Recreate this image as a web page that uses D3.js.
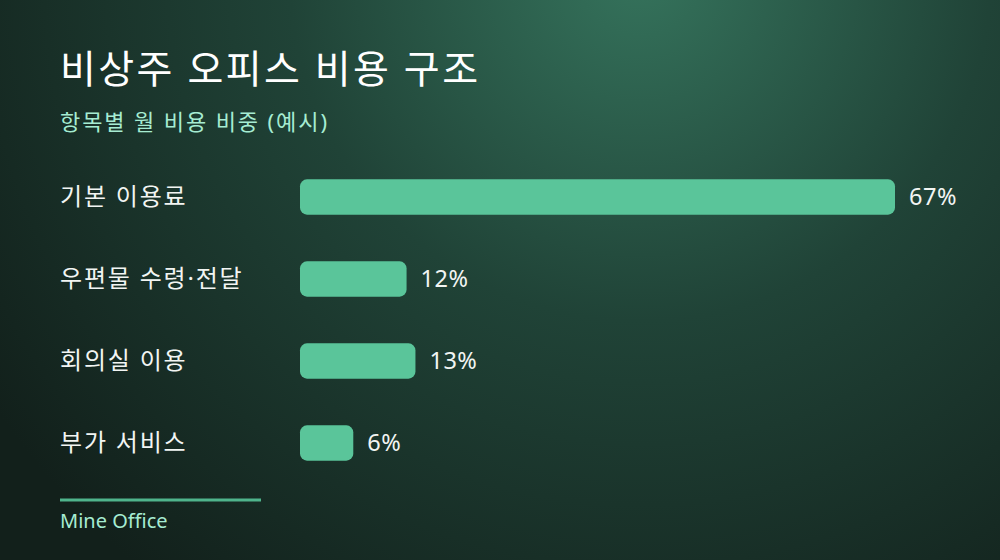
<!DOCTYPE html>
<html>
<head>
<meta charset="utf-8">
<script src="https://cdn.jsdelivr.net/npm/d3@7"></script>
<style>
  html, body { margin: 0; padding: 0; background: #14221d; }
  svg { display: block; font-family: "Noto Sans", "Noto Sans CJK KR", sans-serif; }
</style>
</head>
<body>
<svg id="chart" width="1000" height="560"></svg>
<script>
// data
const categories = ["기본 이용료", "우편물 수령·전달", "회의실 이용", "부가 서비스"];
const shares = [67, 12, 13, 6];

const W = 1000, H = 560;
const svg = d3.select("#chart");

// background
const defs = svg.append("defs");
const bg = defs.append("radialGradient").attr("id", "bg")
  .attr("gradientUnits", "userSpaceOnUse")
  .attr("cx", 640).attr("cy", -30).attr("r", 780);
bg.append("stop").attr("offset", "0").attr("stop-color", "#35735c");
bg.append("stop").attr("offset", "0.45").attr("stop-color", "#204337");
bg.append("stop").attr("offset", "1").attr("stop-color", "#12201b");
svg.append("rect").attr("width", W).attr("height", H).attr("fill", "url(#bg)");

// titles
svg.append("text").attr("x", 60).attr("y", 83)
  .attr("fill", "#ffffff").attr("font-size", 39).attr("font-weight", 400)
  .attr("letter-spacing", 2.4)
  .text("비상주 오피스 비용 구조");
svg.append("text").attr("x", 60).attr("y", 130)
  .attr("fill", "#a6ecd2").attr("font-size", 22)
  .attr("letter-spacing", 1.9)
  .text("항목별 월 비용 비중 (예시)");

// scales
const x = d3.scaleLinear().domain([0, d3.max(shares)]).range([300, 895]);
const y = d3.scaleBand().domain(categories).range([156, 484]).paddingInner(0.57).paddingOuter(0.285);

const rows = svg.append("g").selectAll("g")
  .data(categories.map((c, i) => ({ c, v: shares[i] })))
  .join("g");

rows.append("text")
  .attr("x", 60)
  .attr("y", d => y(d.c) + y.bandwidth() / 2)
  .attr("dy", "0.35em")
  .attr("fill", "#f2f5f3").attr("font-size", 24)
  .attr("letter-spacing", 1.8)
  .text(d => d.c);

rows.append("rect")
  .attr("x", x(0))
  .attr("y", d => y(d.c))
  .attr("width", d => x(d.v) - x(0))
  .attr("height", y.bandwidth())
  .attr("rx", 7)
  .attr("fill", "#5ac59a");

rows.append("text")
  .attr("x", d => x(d.v) + 14)
  .attr("y", d => y(d.c) + y.bandwidth() / 2)
  .attr("dy", "0.35em")
  .attr("fill", "#f2f5f3").attr("font-size", 23.5)
  .attr("letter-spacing", 0.5)
  .text(d => d.v + "%");

// footer
svg.append("line").attr("x1", 60).attr("x2", 261).attr("y1", 500).attr("y2", 500)
  .attr("stroke", "#4fb48c").attr("stroke-width", 3);
svg.append("text").attr("x", 60).attr("y", 528)
  .attr("fill", "#a6ecd2").attr("font-size", 20)
  .text("Mine Office");
</script>
</body>
</html>
